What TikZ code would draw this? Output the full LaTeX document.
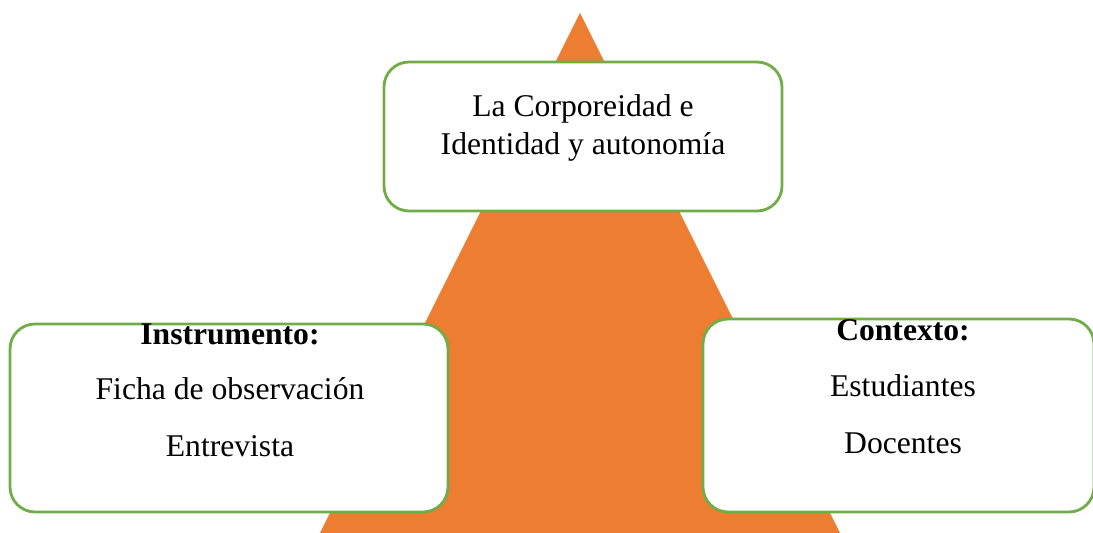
\documentclass[tikz,border=0pt]{standalone}
\usepackage{fontspec}
\setmainfont{Liberation Serif}
\usepackage{tikz}

\definecolor{boxgreen}{RGB}{112,173,71}
\definecolor{pyrorange}{RGB}{237,125,49}

\begin{document}
\begin{tikzpicture}[x=0.02cm,y=0.02cm]

\tikzset{panel/.style = {shape=rectangle,draw=boxgreen,fill=white,line width=1.6pt,rounded corners=0.5cm,inner sep=0pt,outer sep=0pt}}
\tikzset{label/.style = {anchor=base,font=\fontsize{18}{22}\selectfont}}

\useasboundingbox (0,0) rectangle (1093,533);

%pyramid
\fill[pyrorange] (320,0) -- (580,520) -- (840,0) -- cycle;

%boxes
\node[panel,minimum width=398*0.02cm,minimum height=149*0.02cm] (top) at (583,396.5) {};
\node[panel,minimum width=438*0.02cm,minimum height=188*0.02cm] (left) at (229,115) {};
\node[panel,minimum width=391*0.02cm,minimum height=193*0.02cm] (right) at (898.5,117.5) {};

%texts
\node[label] (top1) at (583,416) {La Corporeidad e};
\node[label] (top2) at (583,378) {Identidad y autonomía};
\node[label] (ins) at (230,188) {\textbf{Instrumento:}};
\node[label] (ficha) at (230,133) {Ficha de observación};
\node[label] (entre) at (230,76) {Entrevista};
\node[label] (ctx) at (903,192) {\textbf{Contexto:}};
\node[label] (est) at (903,136) {Estudiantes};
\node[label] (doc) at (903,79) {Docentes};

\end{tikzpicture}
\end{document}
